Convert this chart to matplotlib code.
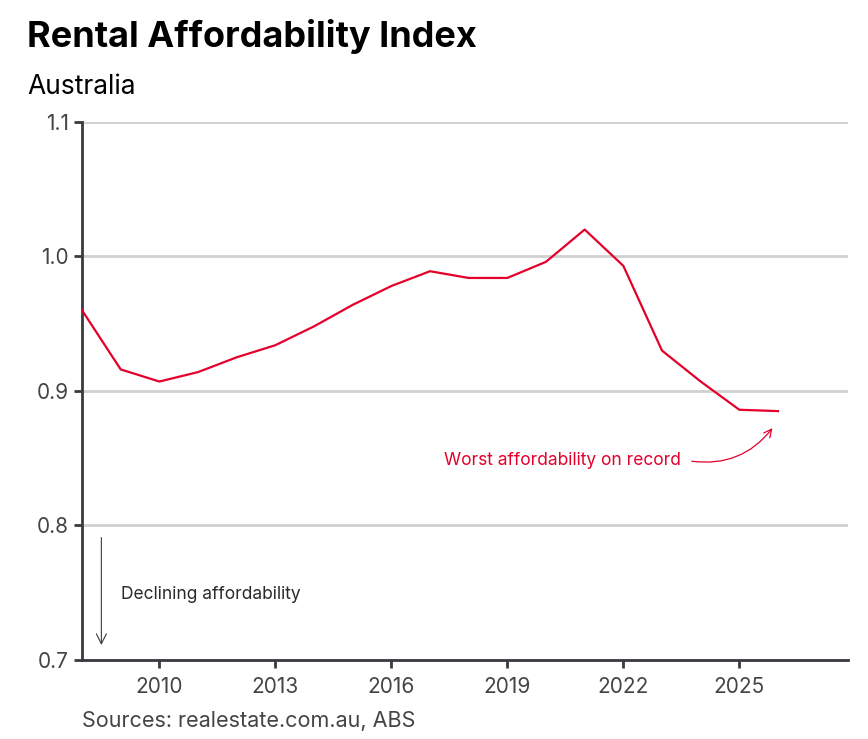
import matplotlib.pyplot as plt

plt.rcParams['font.family'] = ['Inter', 'DejaVu Sans']

# data
years = [2008, 2009, 2010, 2011, 2012, 2013, 2014, 2015, 2016, 2017,
         2018, 2019, 2020, 2021, 2022, 2023, 2024, 2025, 2026]
index = [0.960, 0.916, 0.907, 0.914, 0.925, 0.934, 0.948, 0.964, 0.978, 0.989,
         0.984, 0.984, 0.996, 1.020, 0.993, 0.930, 0.907, 0.886, 0.885]
xticks = [2010, 2013, 2016, 2019, 2022, 2025]
yticks = [0.7, 0.8, 0.9, 1.0, 1.1]

red = '#e4002b'
dark = '#3a3a3f'

fig = plt.figure(figsize=(8.68, 7.39), dpi=100)
ax = fig.add_axes([0.0945, 0.107, 0.882, 0.728])

ax.plot(years, index, color=red, lw=1.6, zorder=3)

ax.set_xlim(2008, 2027.8)
ax.set_ylim(0.7, 1.1)
ax.set_xticks(xticks)
ax.set_yticks(yticks)
ax.set_yticklabels([f'{v:.1f}' for v in yticks])
ax.grid(axis='y', color='#d0d0d0', lw=2)
ax.set_axisbelow(True)

for s in ['top', 'right']:
    ax.spines[s].set_visible(False)
for s in ['left', 'bottom']:
    ax.spines[s].set_color(dark)
    ax.spines[s].set_linewidth(2)
ax.tick_params(colors=dark, width=2, length=6, labelsize=15, labelcolor='#444444')
ax.tick_params(axis='x', pad=6)

# annotations
ax.annotate('', xy=(2008.5, 0.709), xytext=(2008.5, 0.793),
            arrowprops=dict(arrowstyle='->', color=dark, lw=0.8, mutation_scale=18))
ax.text(2009.0, 0.749, 'Declining affordability', fontsize=12.5, color='#2a2a2a', va='center')

ax.text(2017.35, 0.848, 'Worst affordability on record', fontsize=12.5, color=red, va='center')
ax.annotate('', xy=(2025.9, 0.874), xytext=(2023.7, 0.848),
            arrowprops=dict(arrowstyle='->', color=red, lw=0.9, mutation_scale=14,
                            connectionstyle='arc3,rad=0.3'))

fig.text(0.031, 0.950, 'Rental Affordability Index', fontsize=26, fontweight='bold',
         color='black', va='center')
fig.text(0.031, 0.882, 'Australia', fontsize=19, color='black', va='center')
fig.text(0.095, 0.024, 'Sources: realestate.com.au, ABS', fontsize=15.5, color='#444444', va='center')

fig.savefig('out.png', dpi=100)
